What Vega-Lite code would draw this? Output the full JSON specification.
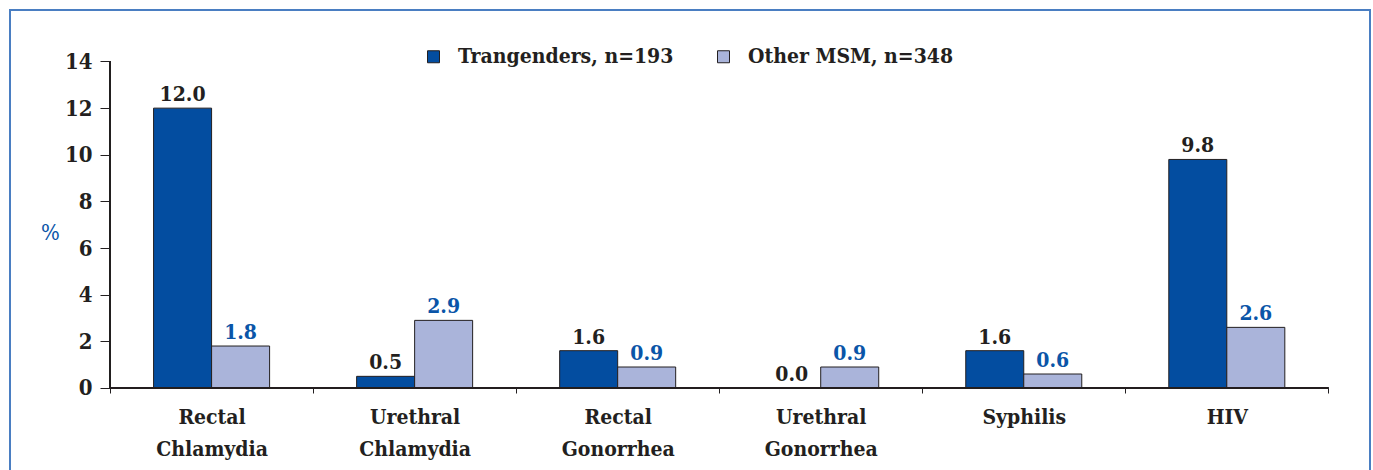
{
  "$schema": "https://vega.github.io/schema/vega-lite/v6.json",
  "width": 1360,
  "height": 470,
  "autosize": {"type": "none"},
  "padding": {"left": 10, "top": 10, "right": 3, "bottom": 0},
  "background": "white",
  "config": {
    "view": {"stroke": "#4a7ec2", "strokeWidth": 2},
    "font": "DejaVu Serif Condensed"
  },
  "data": {
    "values": [
      {"cat": "Rectal Chlamydia", "group": "Trangenders, n=193", "value": 12.0},
      {"cat": "Rectal Chlamydia", "group": "Other MSM, n=348", "value": 1.8},
      {"cat": "Urethral Chlamydia", "group": "Trangenders, n=193", "value": 0.5},
      {"cat": "Urethral Chlamydia", "group": "Other MSM, n=348", "value": 2.9},
      {"cat": "Rectal Gonorrhea", "group": "Trangenders, n=193", "value": 1.6},
      {"cat": "Rectal Gonorrhea", "group": "Other MSM, n=348", "value": 0.9},
      {"cat": "Urethral Gonorrhea", "group": "Trangenders, n=193", "value": 0.0},
      {"cat": "Urethral Gonorrhea", "group": "Other MSM, n=348", "value": 0.9},
      {"cat": "Syphilis", "group": "Trangenders, n=193", "value": 1.6},
      {"cat": "Syphilis", "group": "Other MSM, n=348", "value": 0.6},
      {"cat": "HIV", "group": "Trangenders, n=193", "value": 9.8},
      {"cat": "HIV", "group": "Other MSM, n=348", "value": 2.6}
    ]
  },
  "encoding": {
    "x": {
      "field": "cat",
      "type": "nominal",
      "sort": null,
      "scale": {
        "domain": ["Rectal Chlamydia", "Urethral Chlamydia", "Rectal Gonorrhea", "Urethral Gonorrhea", "Syphilis", "HIV"],
        "paddingInner": 0,
        "paddingOuter": 0.349,
        "align": 0.706
      },
      "axis": {
        "orient": "bottom",
        "offset": -92,
        "domain": false,
        "tickBand": "extent",
        "tickSize": 5,
        "tickColor": "#231f20",
        "labelFont": "DejaVu Serif Condensed",
        "labelFontSize": 21,
        "labelFontWeight": "bold",
        "labelColor": "#231f20",
        "labelAngle": 0,
        "labelExpr": "split(datum.label, ' ')",
        "labelLineHeight": 32,
        "labelPadding": 13,
        "title": null
      }
    },
    "y": {
      "field": "value",
      "type": "quantitative",
      "stack": null,
      "scale": {"domain": [-3.945, 16.208], "nice": false, "zero": false},
      "axis": {
        "orient": "left",
        "offset": -100,
        "domain": false,
        "grid": false,
        "values": [0, 2, 4, 6, 8, 10, 12, 14],
        "tickSize": 10,
        "tickColor": "#231f20",
        "labelFont": "DejaVu Serif Condensed",
        "labelFontSize": 22,
        "labelFontWeight": "bold",
        "labelColor": "#231f20",
        "labelPadding": 8,
        "title": "%",
        "titleFont": "DejaVu Serif Condensed",
        "titleAngle": 0,
        "titleColor": "#0a55a8",
        "titleFontSize": 22,
        "titleFontWeight": "normal",
        "titleX": -60,
        "titleY": 222,
        "titleAlign": "center",
        "titleBaseline": "middle"
      }
    }
  },
  "layer": [
    {
      "mark": {"type": "bar", "stroke": "#231f20", "strokeWidth": 1},
      "encoding": {
        "xOffset": {"field": "group", "type": "nominal", "sort": null, "scale": {"paddingInner": 0, "paddingOuter": 0.75}},
        "y2": {"datum": 0},
        "color": {
          "field": "group",
          "type": "nominal",
          "sort": null,
          "scale": {"domain": ["Trangenders, n=193", "Other MSM, n=348"], "range": ["#034da0", "#aab4da"]},
          "legend": {
            "orient": "none",
            "legendX": 413,
            "legendY": 36,
            "direction": "horizontal",
            "title": null,
            "symbolType": "square",
            "symbolSize": 144,
            "symbolStrokeColor": "#231f20",
            "symbolStrokeWidth": 1,
            "labelFont": "DejaVu Serif Condensed",
            "labelFontSize": 21,
            "labelFontWeight": "bold",
            "labelColor": "#231f20",
            "labelOffset": 14,
            "labelLimit": 400,
            "columnPadding": 39
          }
        }
      }
    },
    {
      "mark": {"type": "text", "baseline": "alphabetic", "dy": -7, "fontSize": 21, "fontWeight": "bold", "font": "DejaVu Serif Condensed"},
      "encoding": {
        "xOffset": {"field": "group", "type": "nominal", "sort": null},
        "text": {"field": "value", "type": "quantitative", "format": ".1f"},
        "color": {
          "condition": {"test": "datum.group === 'Other MSM, n=348'", "value": "#0a55a8"},
          "value": "#231f20"
        }
      }
    },
    {
      "mark": {"type": "rule", "color": "#231f20", "strokeWidth": 1},
      "encoding": {
        "x": {"datum": "Rectal Chlamydia", "bandPosition": 0},
        "y": {"datum": 0},
        "y2": {"datum": 14}
      }
    },
    {
      "mark": {"type": "rule", "color": "#231f20", "strokeWidth": 1},
      "encoding": {
        "x": {"datum": "Rectal Chlamydia", "bandPosition": 0},
        "x2": {"datum": "HIV", "bandPosition": 1},
        "y": {"datum": 0}
      }
    }
  ]
}
